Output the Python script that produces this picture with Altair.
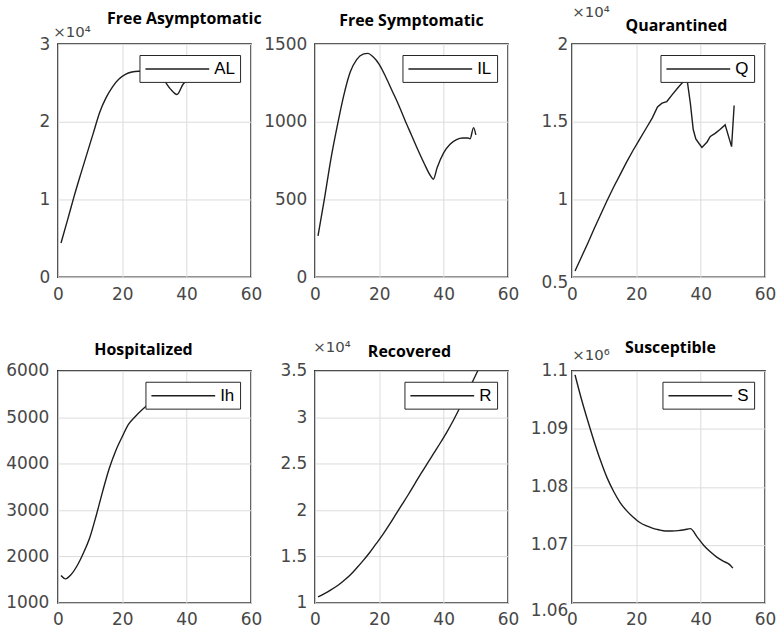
import altair as alt
import pandas as pd

# ---------------- data ----------------
AL_DAYS = [1, 3, 5, 7, 9, 11, 13, 15, 17, 19, 21, 23, 25, 27, 29, 31, 33, 35, 37, 39, 41, 43, 45, 47, 49, 50]
AL_VALS = [4400, 7300, 10300, 13100, 15800, 18500, 21200, 23100, 24500, 25500, 26100, 26400, 26500,
           26500, 26300, 26000, 25300, 24200, 23500, 24900, 25400, 25700, 25900, 26000, 26100, 26150]

IL_DAYS = [1, 3, 5, 7, 9, 11, 13, 15, 16.5, 18, 20, 22, 24, 26, 28, 30, 32, 34, 36, 36.8, 38, 40,
           42, 44, 46, 47.5, 48.2, 49.3, 50]
IL_VALS = [265, 505, 760, 975, 1170, 1320, 1400, 1435, 1440, 1420, 1370, 1290, 1200, 1110, 1010, 915,
           820, 730, 650, 630, 705, 800, 855, 885, 895, 895, 890, 962, 915]

Q_DAYS = [1, 3, 5, 7, 9, 11, 13, 15, 17, 19, 21, 23, 25, 26.6, 28, 29.5, 31, 33, 34.5, 35.8, 36.8,
          37.7, 38.5, 39.5, 40.4, 42, 43, 44.5, 46, 47.6, 49.6, 50.4]
Q_VALS = [5400, 6300, 7200, 8150, 9050, 9950, 10800, 11600, 12400, 13150, 13850, 14550, 15250, 15950,
          16200, 16300, 16700, 17200, 17550, 17700, 16200, 14500, 13900, 13600, 13350, 13700, 14050,
          14250, 14500, 14800, 13400, 16050]

IH_DAYS = [1, 2.4, 4, 6, 8, 10, 12, 14, 16, 18, 20, 22, 24, 26, 28, 30, 33, 36, 40, 45, 50]
IH_VALS = [1590, 1518, 1600, 1800, 2080, 2420, 2900, 3420, 3900, 4280, 4580, 4850, 5010, 5150, 5270,
           5360, 5450, 5500, 5520, 5500, 5460]

R_DAYS = [1, 3, 5, 7, 9, 11, 13, 15, 17, 19, 21, 23, 25, 27, 29, 31, 33, 35, 37, 39, 41, 43, 45, 47, 49, 50.6]
R_VALS = [10650, 11000, 11400, 11850, 12400, 13000, 13750, 14550, 15400, 16350, 17300, 18350, 19450,
          20550, 21650, 22800, 23950, 25050, 26150, 27250, 28400, 29650, 31000, 32400, 33850, 35000]

S_DAYS = [1, 3, 5, 7, 9, 11, 13, 15, 17, 19, 21, 23, 25, 27, 29, 31, 33, 35, 36.8, 39, 41, 43, 45, 47, 49, 50]
S_VALS = [1099300, 1095100, 1091300, 1087700, 1084400, 1081500, 1079200, 1077300, 1075900, 1074800,
          1073900, 1073300, 1072900, 1072600, 1072400, 1072400, 1072450, 1072600, 1072800, 1071300,
          1069900, 1068800, 1067900, 1067200, 1066600, 1066000]

X_TICKS = [0, 20, 40, 60]

# ---------------- styling ----------------
FONT = "DejaVu Sans"
TITLE_FONT = "Open Sans"
LINE = "#1e1e1e"
GRID = "#dcdcdc"
LABEL = "#474747"
BORDER = "#262626"
PW = 194
# legend line sample: a custom path 64 px long drawn with a small symbol size
LEG_PATH = "M-1,0H7"


def make_panel(days, values, key, title, domain, ticks, divisor, exp_label,
               title_dx, title_offset, exp_x, exp_y, interp, height,
               label_pad=8, low_shift=0):
    df = pd.DataFrame({"day": days, "value": values, "series": [key] * len(days)})

    yk = dict(values=ticks, grid=True, ticks=False, tickSize=0, domain=False,
              labelPadding=label_pad, labelFontSize=17, labelFont=FONT,
              labelColor=LABEL, gridColor=GRID, labelFlush=False,
              labelExpr=f"format(datum.value / {divisor}, '~g')")
    if exp_label:
        yk.update(titleAngle=0, titleX=exp_x, titleY=exp_y, titleAlign="left",
                  titleBaseline="alphabetic", titleFont=FONT, titleFontSize=15,
                  titleFontWeight="normal", titleColor=LABEL)
    if low_shift:
        yk["labelOffset"] = {"condition": {"test": f"datum.value == {domain[0]}",
                                           "value": low_shift}, "value": 0}

    y_title = exp_label if exp_label else None
    y = alt.Y("value:Q", scale=alt.Scale(domain=domain, nice=False, zero=False),
              axis=alt.Axis(**yk), title=y_title)
    x = alt.X("day:Q", scale=alt.Scale(domain=[0, 60], nice=False),
              axis=alt.Axis(values=X_TICKS, grid=True, ticks=False, tickSize=0,
                            domain=False, labelPadding=9, labelFontSize=17,
                            labelFont=FONT, labelColor=LABEL, gridColor=GRID,
                            labelFlush=False),
              title=None)
    color = alt.Color("series:N", scale=alt.Scale(range=[LINE]),
                      legend=alt.Legend(title=None, orient="top-right", offset=11,
                                        symbolType=LEG_PATH, symbolSize=256,
                                        symbolStrokeWidth=1.4,
                                        labelFont="Liberation Sans", labelFontSize=17,
                                        labelColor="black", fillColor="white",
                                        strokeColor=BORDER, padding=5, labelOffset=52,
                                        labelLimit=200))
    line = (alt.Chart(df)
            .mark_line(clip=True, strokeWidth=1.4, interpolate=interp)
            .encode(x=x, y=y, color=color))

    tdf = pd.DataFrame({"title": [title]})
    ttl = (alt.Chart(tdf)
           .mark_text(font=TITLE_FONT, fontWeight="bold", fontSize=16, color="black",
                      align="center", baseline="alphabetic")
           .encode(text="title:N", x=alt.value(PW / 2 + title_dx), y=alt.value(-title_offset)))
    return alt.layer(line, ttl).properties(width=PW, height=height)


p1 = make_panel(AL_DAYS, AL_VALS, "AL", "Free Asymptomatic", [0, 30000],
                [0, 10000, 20000, 30000], 10000, "×10⁴", 30, 20, -5, -8, "monotone", 234)
p2 = make_panel(IL_DAYS, IL_VALS, "IL", "Free Symptomatic", [0, 1500],
                [0, 500, 1000, 1500], 1, "", 0, 18, 0, 0, "monotone", 234)
p3 = make_panel(Q_DAYS, Q_VALS, "Q", "Quarantined", [5000, 20000],
                [5000, 10000, 15000, 20000], 10000, "×10⁴", 8, 13, 0, -28, "linear", 234,
                label_pad=4, low_shift=5)
p4 = make_panel(IH_DAYS, IH_VALS, "Ih", "Hospitalized", [1000, 6000],
                [1000, 2000, 3000, 4000, 5000, 6000], 1, "", -11, 16, 0, 0, "monotone", 233,
                label_pad=9)
p5 = make_panel(R_DAYS, R_VALS, "R", "Recovered", [10000, 35000],
                [10000, 15000, 20000, 25000, 30000, 35000], 10000, "×10⁴", -2, 14, -2, -19,
                "monotone", 233)
p6 = make_panel(S_DAYS, S_VALS, "S", "Susceptible", [1060000, 1100000],
                [1060000, 1070000, 1080000, 1090000, 1100000], 1000000, "×10⁶", 2, 18, 0, -11,
                "monotone", 233, label_pad=4, low_shift=8)

chart = (alt.concat(p1, p2, p3, p4, p5, p6, columns=3,
                    spacing={"row": 94, "column": 64}, bounds="flush")
         .resolve_scale(color="independent").resolve_legend(color="independent")
         .properties(padding={"left": 4, "top": 2, "right": 5, "bottom": 5})
         .configure(background="white")
         .configure_view(stroke=BORDER, strokeWidth=1.5))

chart.save("out.html", embed_options={"renderer": "svg", "actions": False})
